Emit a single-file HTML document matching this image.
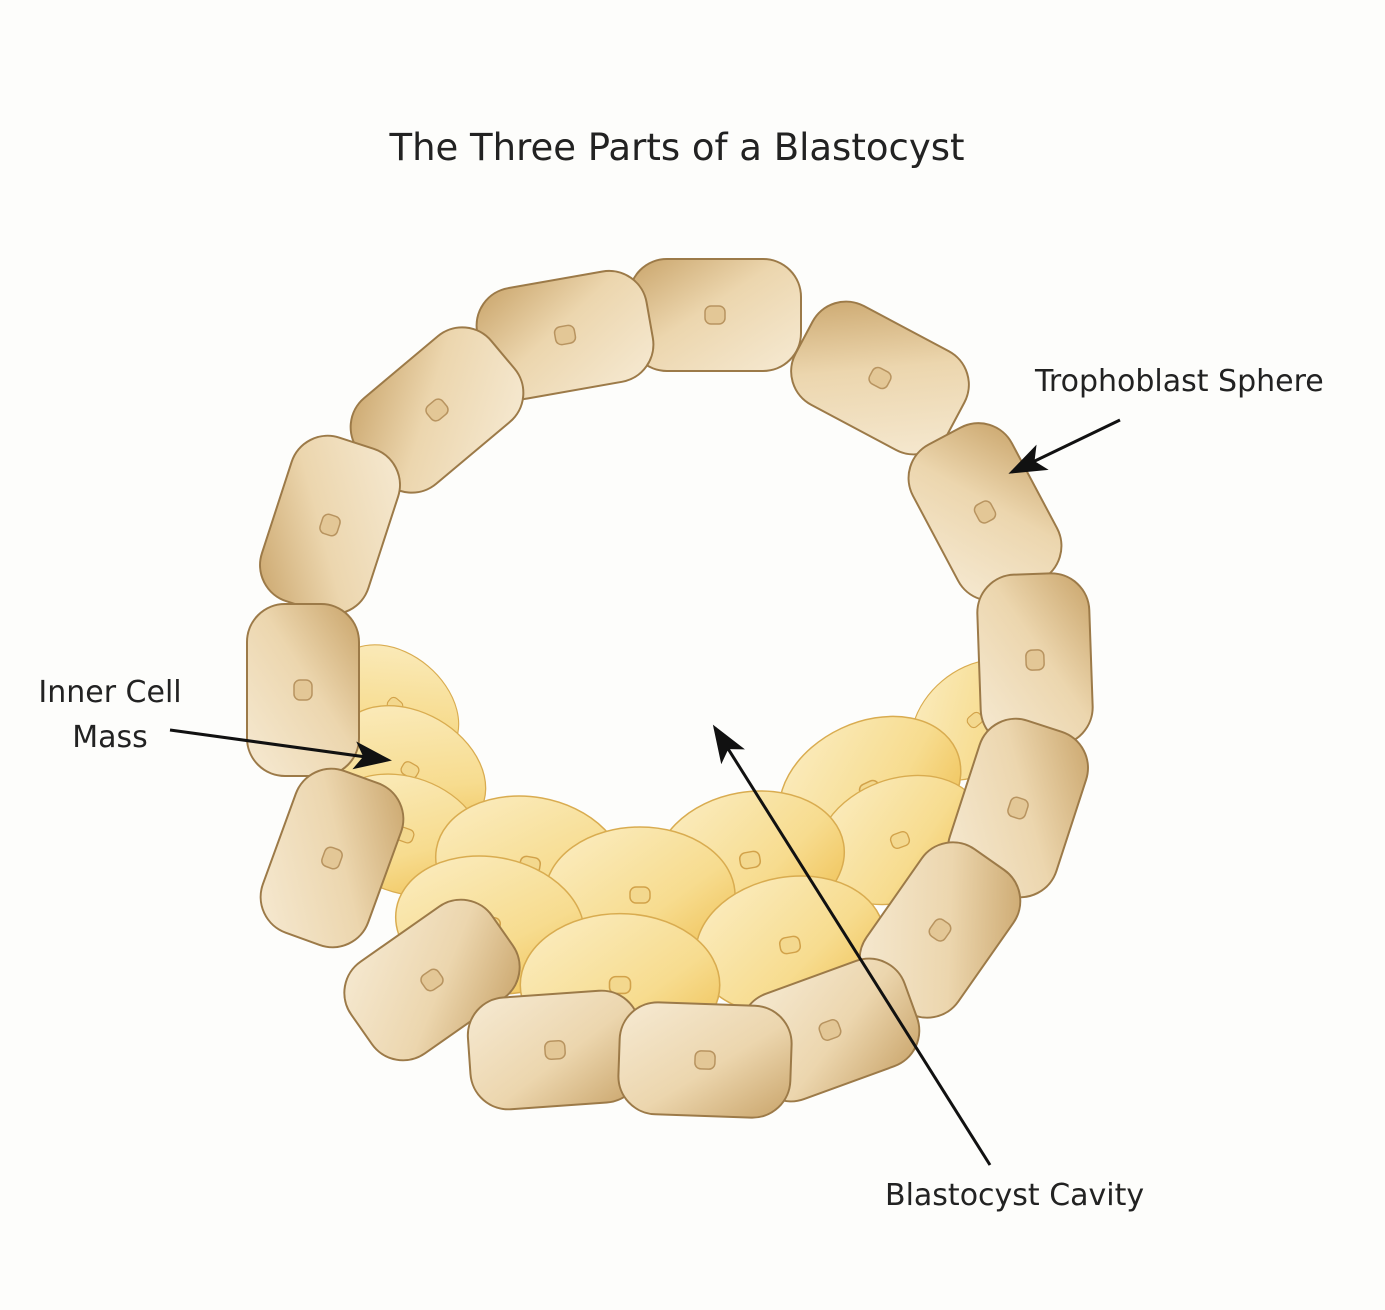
<!DOCTYPE html>
<html><head><meta charset="utf-8"><style>
html,body{margin:0;padding:0;background:#fdfdfb;}
svg{display:block}
text{font-family:"DejaVu Sans","Liberation Sans",sans-serif;fill:#222}
</style></head><body>
<svg width="1385" height="1310" viewBox="0 0 1385 1310" xmlns="http://www.w3.org/2000/svg">
<defs>
<linearGradient id="tan" x1="0" y1="0" x2="1" y2="1">
<stop offset="0" stop-color="#c9a46a"/><stop offset="0.45" stop-color="#ecd6ae"/><stop offset="1" stop-color="#f6ead3"/>
</linearGradient>
<linearGradient id="yel" x1="0" y1="0" x2="1" y2="1">
<stop offset="0" stop-color="#fbeec5"/><stop offset="0.6" stop-color="#f7dc8f"/><stop offset="1" stop-color="#eebd4c"/>
</linearGradient>
<marker id="ah" markerWidth="40" markerHeight="30" refX="34" refY="14" orient="auto" markerUnits="userSpaceOnUse" viewBox="0 0 40 30">
<path d="M0,0 L38,14 L0,28 L9,14 z" fill="#111"/>
</marker>
<g id="cell"><rect x="-86" y="-56" width="172" height="112" rx="38" fill="url(#tan)" stroke="#9c7a48" stroke-width="2"/><rect x="-10" y="-9" width="20" height="18" rx="6" fill="#e3c796" stroke="#b89460" stroke-width="1.5"/></g>
<g id="icell"><ellipse cx="0" cy="0" rx="95" ry="68" fill="url(#yel)" stroke="#d9ac50" stroke-width="1.5"/><rect x="-10" y="-8" width="20" height="16" rx="6" fill="#f3d88e" stroke="#d2a24a" stroke-width="1.5"/></g>
</defs>
<text x="677" y="160" font-size="37" text-anchor="middle">The Three Parts of a Blastocyst</text>

<g>
<use href="#icell" transform="translate(395,705) rotate(40) scale(0.75)"/>
<use href="#icell" transform="translate(410,770) rotate(30) scale(0.85)"/>
<use href="#icell" transform="translate(405,835) rotate(20) scale(0.85)"/>
<use href="#icell" transform="translate(975,720) rotate(-40) scale(0.75)"/>
<use href="#icell" transform="translate(870,790) rotate(-25)"/>
<use href="#icell" transform="translate(900,840) rotate(-20) scale(0.9)"/>
<use href="#icell" transform="translate(530,865) rotate(10)"/>
<use href="#icell" transform="translate(750,860) rotate(-10)"/>
<use href="#icell" transform="translate(640,895)"/>
<use href="#icell" transform="translate(490,925) rotate(10)"/>
<use href="#icell" transform="translate(790,945) rotate(-10)"/>
<use href="#icell" transform="translate(620,985) scale(1.05)"/>
</g>
<g>
<use href="#cell" transform="translate(715,315) rotate(0)"/>
<use href="#cell" transform="translate(565,335) rotate(-10)"/>
<use href="#cell" transform="translate(880,378) rotate(28)"/>
<use href="#cell" transform="translate(437,410) rotate(-40)"/>
<use href="#cell" transform="translate(985,512) rotate(62)"/>
<use href="#cell" transform="translate(330,525) rotate(-72)"/>
<use href="#cell" transform="translate(1035,660) rotate(88)"/>
<use href="#cell" transform="translate(303,690) rotate(90)"/>
<use href="#cell" transform="translate(1018,808) rotate(108)"/>
<use href="#cell" transform="translate(332,858) rotate(110)"/>
<use href="#cell" transform="translate(940,930) rotate(125)"/>
<use href="#cell" transform="translate(432,980) rotate(145)"/>
<use href="#cell" transform="translate(830,1030) rotate(160)"/>
<use href="#cell" transform="translate(555,1050) rotate(176)"/>
<use href="#cell" transform="translate(705,1060) rotate(182)"/>
</g>

<text x="1035" y="391" font-size="30">Trophoblast Sphere</text>
<line x1="1120" y1="420" x2="1012" y2="472" stroke="#111" stroke-width="3" marker-end="url(#ah)"/>
<text x="110" y="702" font-size="30" text-anchor="middle">Inner Cell</text>
<text x="110" y="747" font-size="30" text-anchor="middle">Mass</text>
<line x1="170" y1="730" x2="388" y2="760" stroke="#111" stroke-width="3" marker-end="url(#ah)"/>
<line x1="990" y1="1165" x2="715" y2="728" stroke="#111" stroke-width="3" marker-end="url(#ah)"/>
<text x="885" y="1205" font-size="30">Blastocyst Cavity</text>
</svg>
</body></html>
